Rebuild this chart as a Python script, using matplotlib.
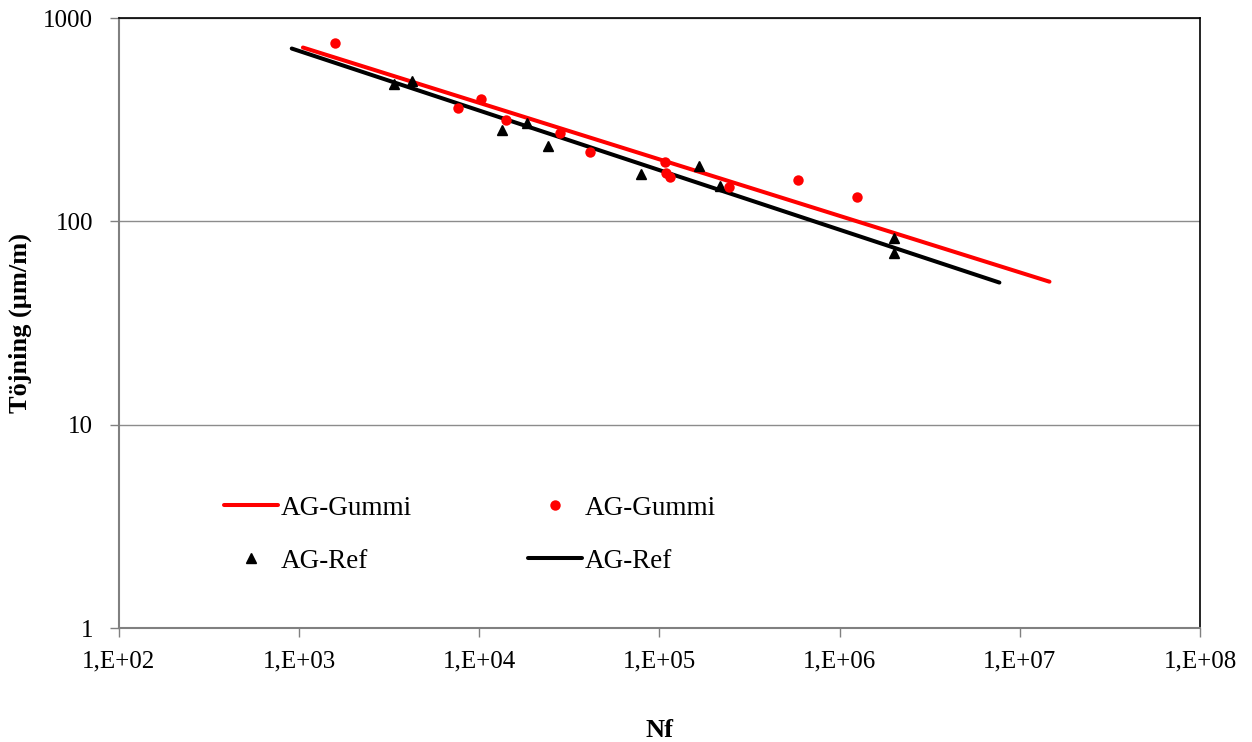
import matplotlib.pyplot as plt
import numpy as np

plt.rcParams['font.family'] = ['Liberation Serif', 'DejaVu Serif']

# AG-Gummi measurements (Nf, strain in µm/m)
gummi_nf = [1580, 7600, 1.02e4, 1.4e4, 2.8e4, 4.1e4, 1.07e5, 1.09e5, 1.15e5, 2.44e5, 5.85e5, 1.25e6]
gummi_eps = [750, 360, 398, 314, 272, 220, 196, 172, 166, 148, 160, 132]

# AG-Ref measurements
ref_nf = [3350, 4250, 1.34e4, 1.83e4, 2.4e4, 7.9e4, 1.65e5, 2.17e5, 2.0e6, 2.0e6]
ref_eps = [476, 490, 280, 305, 235, 171, 187, 149, 83, 70]

# trendline end points
gummi_fit_nf = [1.05e3, 1.46e7]
gummi_fit_eps = [716, 50.5]
ref_fit_nf = [9.1e2, 7.7e6]
ref_fit_eps = [708, 50]

x_ticks = [1e2, 1e3, 1e4, 1e5, 1e6, 1e7, 1e8]
x_labels = ['1,E+02', '1,E+03', '1,E+04', '1,E+05', '1,E+06', '1,E+07', '1,E+08']
y_ticks = [1, 10, 100, 1000]
y_labels = ['1', '10', '100', '1000']

fig = plt.figure(figsize=(12.52, 7.42), dpi=100)
ax = fig.add_axes([0.095, 0.1536, 0.8635, 0.8221])

h_gl, = ax.plot(gummi_fit_nf, gummi_fit_eps, color='#ff0000', lw=2.9, solid_capstyle='round', zorder=3)
h_rp, = ax.plot(ref_nf, ref_eps, ls='none', marker='^', ms=7, color='black', zorder=4)
h_gp, = ax.plot(gummi_nf, gummi_eps, ls='none', marker='o', ms=7.5, color='#ff0000', mec='none', zorder=4)
h_rl, = ax.plot(ref_fit_nf, ref_fit_eps, color='black', lw=2.9, solid_capstyle='round', zorder=3)

ax.set_xscale('log')
ax.set_yscale('log')
ax.set_xlim(1e2, 1e8)
ax.set_ylim(1, 1000)
ax.set_xticks(x_ticks)
ax.set_xticklabels(x_labels)
ax.set_yticks(y_ticks)
ax.set_yticklabels(y_labels)
ax.minorticks_off()
ax.tick_params(axis='both', direction='out', length=6.5, width=1, color='#808080', labelsize=18)
ax.tick_params(axis='x', pad=10)
ax.tick_params(axis='y', pad=12)

ax.grid(axis='y', color='#8c8c8c', lw=1)
ax.set_axisbelow(True)
for side in ['top', 'right']:
    ax.spines[side].set_color('black')
    ax.spines[side].set_linewidth(1.2)
for side in ['left', 'bottom']:
    ax.spines[side].set_color('#808080')
    ax.spines[side].set_linewidth(1.5)

ax.set_xlabel('Nf', fontsize=19, fontweight='bold', labelpad=33)
ax.set_ylabel('Töjning (µm/m)', fontsize=19, fontweight='bold', labelpad=8)

ax.legend([h_gl, h_rp, h_gp, h_rl], ['AG-Gummi', 'AG-Ref', 'AG-Gummi', 'AG-Ref'],
          ncol=2, frameon=False, fontsize=19.5, loc='upper left',
          bbox_to_anchor=(0.087, 0.235), handlelength=2.0, handletextpad=0.1,
          columnspacing=4.3, labelspacing=1.05, borderaxespad=0)

fig.savefig('out.png', dpi=100)
